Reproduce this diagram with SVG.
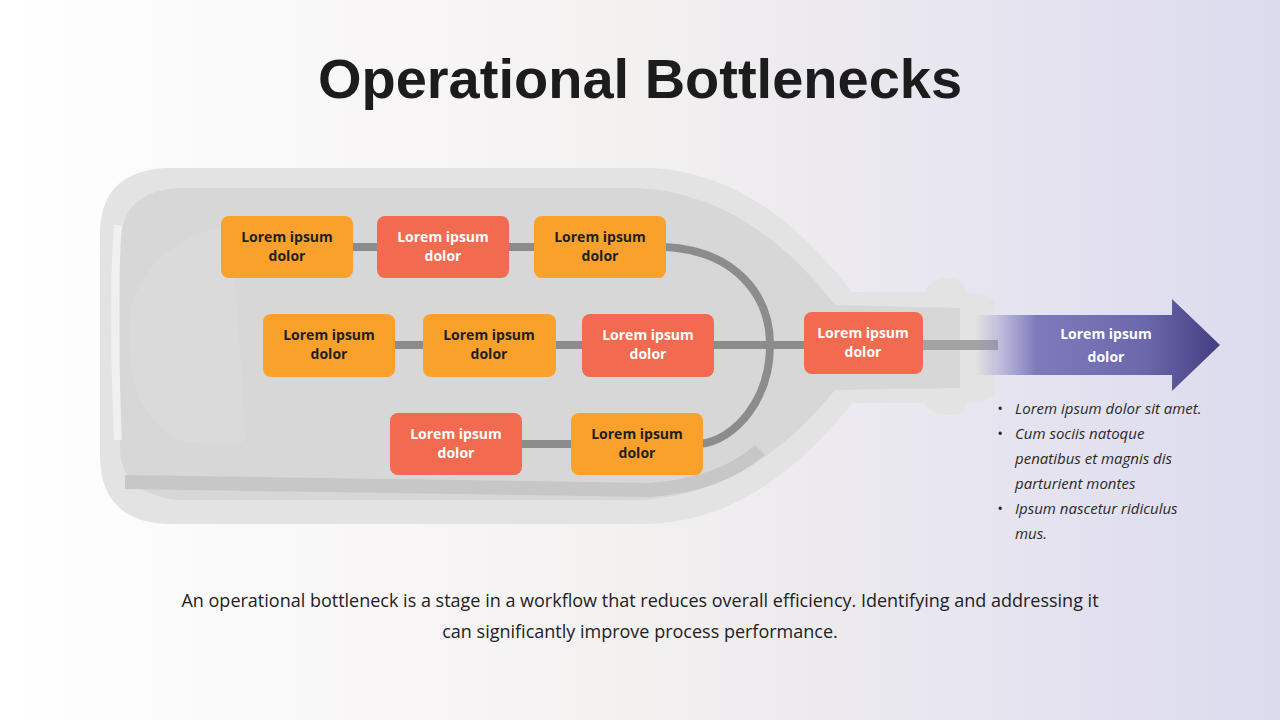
<svg xmlns="http://www.w3.org/2000/svg" width="1280" height="720" viewBox="0 0 1280 720">
<defs>
<linearGradient id="bg" x1="0" x2="1" y1="0" y2="0"><stop offset="0" stop-color="#ffffff"/><stop offset="0.5" stop-color="#f3f0f0"/><stop offset="1" stop-color="#dcdbee"/></linearGradient>
<linearGradient id="arr" gradientUnits="userSpaceOnUse" x1="975" x2="1220" y1="0" y2="0"><stop offset="0" stop-color="#8a87c4" stop-opacity="0"/><stop offset="0.25" stop-color="#7e7bbd"/><stop offset="0.7" stop-color="#6b67ab"/><stop offset="1" stop-color="#433e80"/></linearGradient>
<style>
.o{fill:#F9A12B}.r{fill:#F26A4F}
.lb{font-family:"Open Sans","Liberation Sans",sans-serif;font-weight:bold;font-size:14px;text-anchor:middle}
.dk{fill:#1f1f1f}.wt{fill:#ffffff}
.pipe{stroke:#8c8c8c;stroke-width:8;fill:none}
.bl{font-family:"Open Sans","Liberation Sans",sans-serif;font-style:italic;font-size:15px;fill:#2a2a2a}
</style>
</defs>
<rect width="1280" height="720" fill="url(#bg)"/>
<text x="640" y="98" text-anchor="middle" font-family="Liberation Sans, Arial, sans-serif" font-weight="bold" font-size="56" fill="#1c1c1c">Operational Bottlenecks</text>
<g id="bottle">
<path d="M165,168 L650,168 Q760,172 852,292 L925,292 Q930,278 950,278 Q965,280 967,292 L985,295 L995,300 L995,395 L985,400 L967,403 Q965,415 950,415 Q930,415 925,403 L852,403 Q760,520 650,524 L165,524 Q100,520 100,455 L100,230 Q102,172 165,168 Z" fill="#e3e3e3"/>
<path d="M180,188 L640,188 Q750,195 835,305 L960,308 L960,388 L835,390 Q750,495 640,500 L180,500 Q122,495 120,450 L120,240 Q124,190 180,188 Z" fill="#d7d7d7"/>
<path d="M125,482 L650,490 Q720,485 760,450" fill="none" stroke="#c7c7c7" stroke-width="14"/>
<path d="M230,225 Q150,240 130,310 Q120,410 180,440 Q230,450 245,440 Q240,330 230,225 Z" fill="#dcdcdc" opacity="0.6"/>
<path d="M118,225 Q112,300 118,440" fill="none" stroke="#f2f2f2" stroke-width="8" opacity="0.8"/>
</g>
<g id="connectors">
<line class="pipe" x1="350" y1="247" x2="380" y2="247"/>
<line class="pipe" x1="505" y1="247" x2="537" y2="247"/>
<line class="pipe" x1="390" y1="345" x2="425" y2="345"/>
<line class="pipe" x1="552" y1="345" x2="585" y2="345"/>
<line class="pipe" x1="712" y1="345" x2="806" y2="345"/>
<line x1="920" y1="345" x2="998" y2="345" stroke="#a3a3a3" stroke-width="10"/>
<line class="pipe" x1="518" y1="444" x2="574" y2="444"/>
<path class="pipe" d="M664,247 C735,250 770,295 770,345 C770,400 735,440 700,444"/>
</g>
<g id="arrow"><path d="M975,315 L1172,315 L1172,299 L1220,345 L1172,391 L1172,375 L975,375 Z" fill="url(#arr)"/>
<text x="1106" y="339" class="lb wt" font-size="18">Lorem ipsum</text><text x="1106" y="362" class="lb wt" font-size="18">dolor</text></g>
<g id="n1"><rect class="o" x="221" y="216" width="132" height="62" rx="8"/><text class="lb dk" x="287" y="242">Lorem ipsum</text><text class="lb dk" x="287" y="261">dolor</text></g>
<g id="n2"><rect class="r" x="377" y="216" width="132" height="62" rx="8"/><text class="lb wt" x="443" y="242">Lorem ipsum</text><text class="lb wt" x="443" y="261">dolor</text></g>
<g id="n3"><rect class="o" x="534" y="216" width="132" height="62" rx="8"/><text class="lb dk" x="600" y="242">Lorem ipsum</text><text class="lb dk" x="600" y="261">dolor</text></g>
<g id="n4"><rect class="o" x="263" y="314" width="132" height="63" rx="8"/><text class="lb dk" x="329" y="340">Lorem ipsum</text><text class="lb dk" x="329" y="359">dolor</text></g>
<g id="n5"><rect class="o" x="423" y="314" width="133" height="63" rx="8"/><text class="lb dk" x="489" y="340">Lorem ipsum</text><text class="lb dk" x="489" y="359">dolor</text></g>
<g id="n6"><rect class="r" x="582" y="314" width="132" height="63" rx="8"/><text class="lb wt" x="648" y="340">Lorem ipsum</text><text class="lb wt" x="648" y="359">dolor</text></g>
<g id="n7"><rect class="r" x="804" y="312" width="119" height="62" rx="8"/><text class="lb wt" x="863" y="338">Lorem ipsum</text><text class="lb wt" x="863" y="357">dolor</text></g>
<g id="n8"><rect class="r" x="390" y="413" width="132" height="62" rx="8"/><text class="lb wt" x="456" y="439">Lorem ipsum</text><text class="lb wt" x="456" y="458">dolor</text></g>
<g id="n9"><rect class="o" x="571" y="413" width="132" height="62" rx="8"/><text class="lb dk" x="637" y="439">Lorem ipsum</text><text class="lb dk" x="637" y="458">dolor</text></g>
<g id="bullets">
<text class="bl" x="997" y="414">•</text><text class="bl" x="1015" y="414">Lorem ipsum dolor sit amet.</text>
<text class="bl" x="997" y="439">•</text><text class="bl" x="1015" y="439">Cum sociis natoque</text>
<text class="bl" x="1015" y="464">penatibus et magnis dis</text>
<text class="bl" x="1015" y="489">parturient montes</text>
<text class="bl" x="997" y="514">•</text><text class="bl" x="1015" y="514">Ipsum nascetur ridiculus</text>
<text class="bl" x="1015" y="539">mus.</text>
</g>
<g font-family="Open Sans, Liberation Sans, sans-serif" font-size="18" fill="#222" text-anchor="middle">
<text x="640" y="607">An operational bottleneck is a stage in a workflow that reduces overall efficiency. Identifying and addressing it</text>
<text x="640" y="638">can significantly improve process performance.</text>
</g>
</svg>
